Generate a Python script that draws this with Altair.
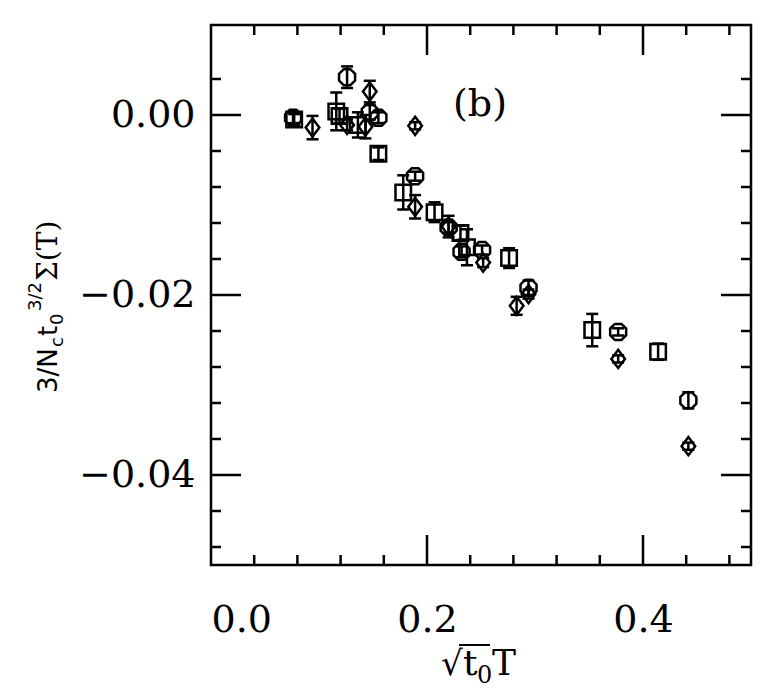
import altair as alt
import pandas as pd

# ---- data ----
circle_x = [0.076, 0.126, 0.147, 0.155, 0.189, 0.220, 0.232, 0.251, 0.294, 0.377, 0.442]
circle_y = [-0.0003, 0.0042, 0.0003, -0.0003, -0.0068, -0.0125, -0.0152, -0.0150, -0.0192, -0.0241, -0.0317]
circle_e = [0.0006, 0.0012, 0.0008, 0.0006, 0.0005, 0.0006, 0.0006, 0.0005, 0.0008, 0.0004, 0.0009]

square_x = [0.077, 0.116, 0.119, 0.136, 0.155, 0.178, 0.207, 0.231, 0.237, 0.276, 0.353, 0.414]
square_y = [-0.0005, 0.0004, -0.0001, -0.0011, -0.0043, -0.0086, -0.0108, -0.0131, -0.0147, -0.0159, -0.0239, -0.0263]
square_e = [0.0006, 0.0021, 0.0008, 0.0014, 0.0007, 0.0019, 0.0011, 0.0008, 0.0020, 0.0011, 0.0018, 0.0009]

diamond_x = [0.094, 0.126, 0.143, 0.147, 0.189, 0.189, 0.220, 0.252, 0.283, 0.294, 0.377, 0.442]
diamond_y = [-0.0014, -0.0011, -0.0013, 0.0026, -0.0012, -0.0102, -0.0124, -0.0164, -0.0212, -0.0199, -0.0271, -0.0368]
diamond_e = [0.0013, 0.0006, 0.0013, 0.0012, 0.0004, 0.0013, 0.0012, 0.0005, 0.0010, 0.0005, 0.0004, 0.0004]

x_labels = [0.0, 0.2, 0.4]
y_labels = [0.0, -0.02, -0.04]
x_minor = [0.04, 0.08, 0.12, 0.16, 0.24, 0.28, 0.32, 0.36, 0.44, 0.48]
x_major = [0.2, 0.4]
y_minor = [0.004, -0.004, -0.008, -0.012, -0.016, -0.024, -0.028, -0.032, -0.036, -0.044, -0.048]
y_major = [0.0, -0.02, -0.04]


def series(name, xs, ys, es):
    return pd.DataFrame({"s": name, "x": xs, "y": ys,
                         "lo": [a - b for a, b in zip(ys, es)],
                         "hi": [a + b for a, b in zip(ys, es)]})


df = pd.concat([series("circle", circle_x, circle_y, circle_e),
                series("square", square_x, square_y, square_e),
                series("diamond", diamond_x, diamond_y, diamond_e)], ignore_index=True)

xs = alt.Scale(domain=[0, 0.5], nice=False, zero=False)
ys = alt.Scale(domain=[-0.05, 0.01], nice=False, zero=False)
xaxis = alt.Axis(values=x_labels, format=".1f", title=None, labelPadding=36)
yaxis = alt.Axis(values=y_labels, format=".2f", title=None, labelPadding=16,
                 labelExpr="replace(datum.label, '-', '\u2212')")

X = alt.X("x:Q", scale=xs, axis=xaxis)
Y = alt.Y("y:Q", scale=ys, axis=yaxis)

base = alt.Chart(df)
SW = 2.5
OCT = "M-0.383,-0.924L0.383,-0.924L0.924,-0.383L0.924,0.383L0.383,0.924L-0.383,0.924L-0.924,0.383L-0.924,-0.383Z"
DIA = "M0,-1L0.75,0L0,1L-0.75,0Z"

bars = base.mark_rule(color="black", strokeWidth=SW).encode(
    x=X, y=alt.Y("lo:Q", scale=ys, axis=yaxis), y2="hi:Q")
cap_lo = base.mark_tick(orient="horizontal", size=12, thickness=SW, color="black", opacity=1).encode(
    x=X, y=alt.Y("lo:Q", scale=ys, axis=yaxis))
cap_hi = base.mark_tick(orient="horizontal", size=12, thickness=SW, color="black", opacity=1).encode(
    x=X, y=alt.Y("hi:Q", scale=ys, axis=yaxis))


def pts(name, shape, size):
    return base.transform_filter(alt.datum.s == name).mark_point(
        shape=shape, size=size, filled=False, color="black", strokeWidth=SW, opacity=1
    ).encode(x=X, y=Y)


circles = pts("circle", OCT, 300)
squares = pts("square", "square", 240)
diamonds = pts("diamond", DIA, 330)


# frame ticks (inward)
def xticks(vals, length):
    d = alt.Chart(pd.DataFrame({"x": vals}))
    b = d.mark_rule(color="black", strokeWidth=SW).encode(x=X, y=alt.value(540), y2=alt.value(540 - length))
    t = d.mark_rule(color="black", strokeWidth=SW).encode(x=X, y=alt.value(0), y2=alt.value(length))
    return [b, t]


def yticks(vals, length):
    d = alt.Chart(pd.DataFrame({"y": vals}))
    l = d.mark_rule(color="black", strokeWidth=SW).encode(y=Y, x=alt.value(0), x2=alt.value(length))
    r = d.mark_rule(color="black", strokeWidth=SW).encode(y=Y, x=alt.value(540), x2=alt.value(540 - length))
    return [l, r]


ticks = xticks(x_major, 30) + xticks(x_minor, 10) + yticks(y_major, 30) + yticks(y_minor, 10)


def txt(s, x, y, size, font="DejaVu Serif", angle=0, align="left", baseline="alphabetic"):
    return alt.Chart(pd.DataFrame({"t": [s]})).mark_text(
        font=font, fontSize=size, angle=angle, align=align, baseline=baseline, color="black"
    ).encode(text="t:N", x=alt.value(x), y=alt.value(y))


OX, OY = 211, 25  # page position of the plot origin
texts = [
    txt("(b)", 480 - OX, 116 - OY, 38, align="center"),
    # y title, rotated
    txt("3/N", 57 - OX, 393 - OY, 26, font="DejaVu Sans", angle=270),
    txt("c", 63 - OX, 347 - OY, 18, font="DejaVu Sans", angle=270),
    txt("t", 57 - OX, 336 - OY, 26, font="DejaVu Sans", angle=270),
    txt("0", 63 - OX, 325 - OY, 18, font="DejaVu Sans", angle=270),
    txt("3/2", 41 - OX, 311 - OY, 18, font="DejaVu Sans", angle=270),
    txt("\u03a3(T)", 57 - OX, 281 - OY, 28, angle=270),
    # x title
    txt("\u221a", 441 - OX, 675 - OY, 34),
    txt("t", 463 - OX, 675 - OY, 36),
    txt("0", 477 - OX, 683 - OY, 24),
    txt("T", 492 - OX, 675 - OY, 36),
]
vinc = alt.Chart(pd.DataFrame({"a": [0]})).mark_rule(color="black", strokeWidth=2).encode(
    x=alt.value(459 - OX), x2=alt.value(490 - OX), y=alt.value(645 - OY))

chart = alt.layer(bars, cap_lo, cap_hi, circles, squares, diamonds, *ticks, *texts, vinc).properties(
    width=540, height=540,
    autosize=alt.AutoSizeParams(type="none"),
    padding={"left": 203, "top": 17, "right": 17, "bottom": 125},
).configure_view(stroke="black", strokeWidth=SW).configure_axis(
    grid=False, ticks=False, domain=False, labelFont="DejaVu Serif", labelFontSize=38, labelColor="black"
)

chart.save("out.html", embed_options={"renderer": "svg", "actions": False})
